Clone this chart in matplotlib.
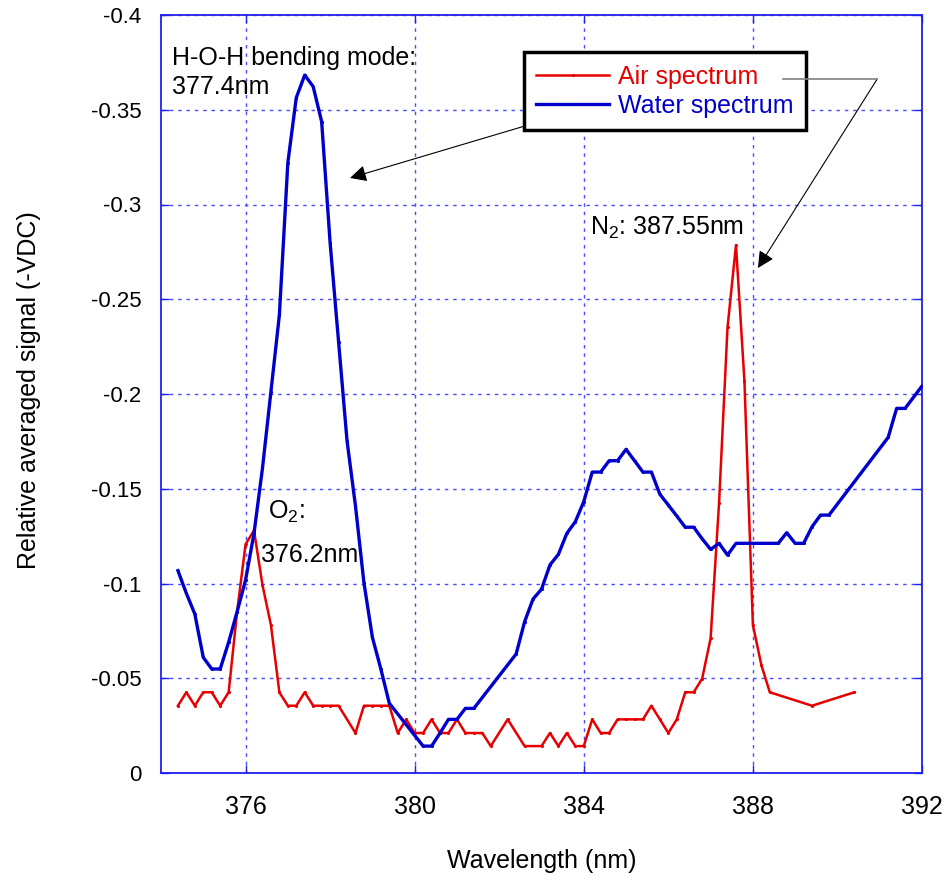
import matplotlib
matplotlib.use("Agg")
import matplotlib.pyplot as plt
from matplotlib import font_manager
from matplotlib.ticker import FuncFormatter, MultipleLocator

# wavelength (nm) and signal magnitude (VDC, plotted as negative)
air_nm = [374.4, 374.6, 374.8, 375.0, 375.2, 375.4, 375.6, 375.8, 376.0, 376.2,
          376.4, 376.6, 376.8, 377.0, 377.2, 377.4, 377.6, 377.8, 378.0, 378.2,
          378.6, 378.8, 379.0, 379.2, 379.4, 379.6, 379.8, 380.0, 380.2, 380.4,
          380.6, 380.8, 381.0, 381.2, 381.4, 381.6, 381.8, 382.2, 382.6, 383.0,
          383.2, 383.4, 383.6, 383.8, 384.0, 384.2, 384.4, 384.6, 384.8, 385.0,
          385.2, 385.4, 385.6, 385.8, 386.0, 386.2, 386.4, 386.6, 386.8, 387.0,
          387.2, 387.4, 387.6, 387.8, 388.0, 388.2, 388.4, 389.4, 390.4]
air_sig = [0.0355, 0.0426, 0.0355, 0.0426, 0.0426, 0.0355, 0.0426, 0.0851, 0.1207, 0.128,
           0.0992, 0.0781, 0.0426, 0.0355, 0.0355, 0.0426, 0.0355, 0.0355, 0.0355, 0.0355,
           0.0211, 0.0355, 0.0355, 0.0355, 0.0355, 0.0211, 0.0283, 0.0211, 0.0211, 0.0283,
           0.0211, 0.0211, 0.0283, 0.0211, 0.0211, 0.0211, 0.0142, 0.0283, 0.0142, 0.0142,
           0.0211, 0.0142, 0.0211, 0.0142, 0.0142, 0.0283, 0.0211, 0.0211, 0.0283, 0.0283,
           0.0283, 0.0283, 0.0355, 0.0283, 0.0211, 0.0283, 0.0426, 0.0426, 0.0498, 0.0711,
           0.1426, 0.2352, 0.2786, 0.2069, 0.0781, 0.0570, 0.0426, 0.0355, 0.0426]

water_nm = [374.4, 374.6, 374.8, 375.0, 375.2, 375.4, 375.6, 375.8, 376.0, 376.2,
            376.4, 376.6, 376.8, 377.0, 377.2, 377.4, 377.6, 377.8, 378.0, 378.2,
            378.4, 378.6, 378.8, 379.0, 379.2, 379.4, 380.2, 380.4, 380.6, 380.8,
            381.0, 381.2, 381.4, 382.4, 382.6, 382.8, 383.0, 383.2, 383.4, 383.6,
            383.8, 384.0, 384.2, 384.4, 384.6, 384.8, 385.0, 385.2, 385.4, 385.6,
            385.8, 386.0, 386.2, 386.4, 386.6, 386.8, 387.0, 387.2, 387.4, 387.6,
            387.8, 388.0, 388.2, 388.4, 388.6, 388.8, 389.0, 389.2, 389.4, 389.6,
            389.8, 391.2, 391.4, 391.6, 392.0]
water_sig = [0.1068, 0.0948, 0.0839, 0.0610, 0.0549, 0.0549, 0.0690, 0.0851, 0.1018, 0.1265,
             0.1608, 0.2012, 0.2417, 0.3220, 0.3564, 0.3683, 0.3622, 0.3437, 0.2798, 0.2276,
             0.1754, 0.1409, 0.1004, 0.0716, 0.0549, 0.0368, 0.0142, 0.0142, 0.0211, 0.0283,
             0.0283, 0.0341, 0.0341, 0.0628, 0.0798, 0.0918, 0.0970, 0.1098, 0.1154, 0.1265,
             0.1326, 0.1432, 0.1588, 0.1588, 0.1648, 0.1648, 0.1708, 0.1648, 0.1588, 0.1588,
             0.1471, 0.1414, 0.1356, 0.1297, 0.1297, 0.1236, 0.1180, 0.1212, 0.1150, 0.1212,
             0.1212, 0.1212, 0.1212, 0.1212, 0.1212, 0.1268, 0.1212, 0.1212, 0.1300, 0.1361,
             0.1361, 0.1771, 0.1924, 0.1924, 0.2042]

x_ticks = [376, 380, 384, 388, 392]

plt.rcParams["font.family"] = ["Liberation Sans", "DejaVu Sans"]
plt.rcParams["mathtext.fontset"] = "custom"
plt.rcParams["mathtext.rm"] = "Liberation Sans"
plt.rcParams["mathtext.it"] = "Liberation Sans"
plt.rcParams["axes.unicode_minus"] = False

installed = {f.name for f in font_manager.fontManager.ttflist}
narrow = "Liberation Sans Narrow" if "Liberation Sans Narrow" in installed else None

RED = "#e60000"
BLUE = "#0000cc"
AXBLUE = "#2020ee"
FS = 18

fig = plt.figure(figsize=(9.44, 8.84), dpi=100)
ax = fig.add_axes([161 / 944, 1 - 773 / 884, (922 - 161) / 944, (773 - 15) / 884])

ax.plot(air_nm, [-v for v in air_sig], color=RED, lw=1.8, marker=".", ms=2.5,
        label="Air spectrum", zorder=3)
ax.plot(water_nm, [-v for v in water_sig], color=BLUE, lw=2.4, marker=".", ms=2.5,
        label="Water spectrum", zorder=4)

ax.set_xlim(374, 392)
ax.set_ylim(0, -0.4)
ax.set_xticks(x_ticks)
ax.yaxis.set_major_locator(MultipleLocator(0.05))
ax.yaxis.set_major_formatter(FuncFormatter(lambda v, p: "0" if abs(v) < 1e-9 else ("%g" % v)))

ax.grid(True, color="#4a4aff", lw=1.0, linestyle=(0, (2.5, 3.5)))
for s in ax.spines.values():
    s.set_color(AXBLUE)
    s.set_linewidth(1.3)
ax.tick_params(direction="in", length=6, width=1, color=AXBLUE, top=True, right=True,
               labelsize=FS)
ax.tick_params(axis="x", pad=16)
ax.tick_params(axis="y", pad=14)
if narrow:
    for lab in ax.get_yticklabels():
        lab.set_fontfamily(narrow)
else:
    ax.tick_params(axis="y", labelsize=16)

ax.set_xlabel("Wavelength (nm)", fontsize=FS)
ax.set_ylabel("Relative averaged signal (-VDC)", fontsize=FS)
ax.xaxis.set_label_coords(0.5, -0.1)
ax.yaxis.set_label_coords(-0.158, 0.505)

leg = ax.legend(loc="upper left", bbox_to_anchor=(0.477, 0.951), borderaxespad=0,
                fontsize=FS, frameon=True, fancybox=False, handlelength=2.9,
                handletextpad=0.35, labelspacing=0.2, borderpad=0.5)
leg.get_frame().set_edgecolor("black")
leg.get_frame().set_linewidth(2.5)
leg.get_frame().set_alpha(1)
for txt, c in zip(leg.get_texts(), [RED, BLUE]):
    txt.set_color(c)

ax.text(374.26, -0.3736, "H-O-H bending mode:", fontsize=FS, va="baseline")
ax.text(374.26, -0.3583, "377.4nm", fontsize=FS, va="baseline")
ax.text(376.54, -0.1339, "O$_2$:", fontsize=FS, va="baseline")
ax.text(376.36, -0.1115, "376.2nm", fontsize=FS, va="baseline")
ax.text(384.15, -0.2839, "N$_2$: 387.55nm", fontsize=FS, va="baseline")

ax.annotate("", xy=(378.47, -0.314), xytext=(383.01, -0.3441),
            arrowprops=dict(arrowstyle="-|>", color="black", lw=0.8,
                            mutation_scale=25, shrinkA=0, shrinkB=0))
ax.plot([388.71, 390.94], [-0.3662, -0.3662], color="#808080", lw=1.2, zorder=6)
ax.annotate("", xy=(388.12, -0.2665), xytext=(390.94, -0.3662),
            arrowprops=dict(arrowstyle="-|>", color="black", lw=0.8,
                            mutation_scale=25, shrinkA=0, shrinkB=0))

fig.savefig("out.png", dpi=100)
